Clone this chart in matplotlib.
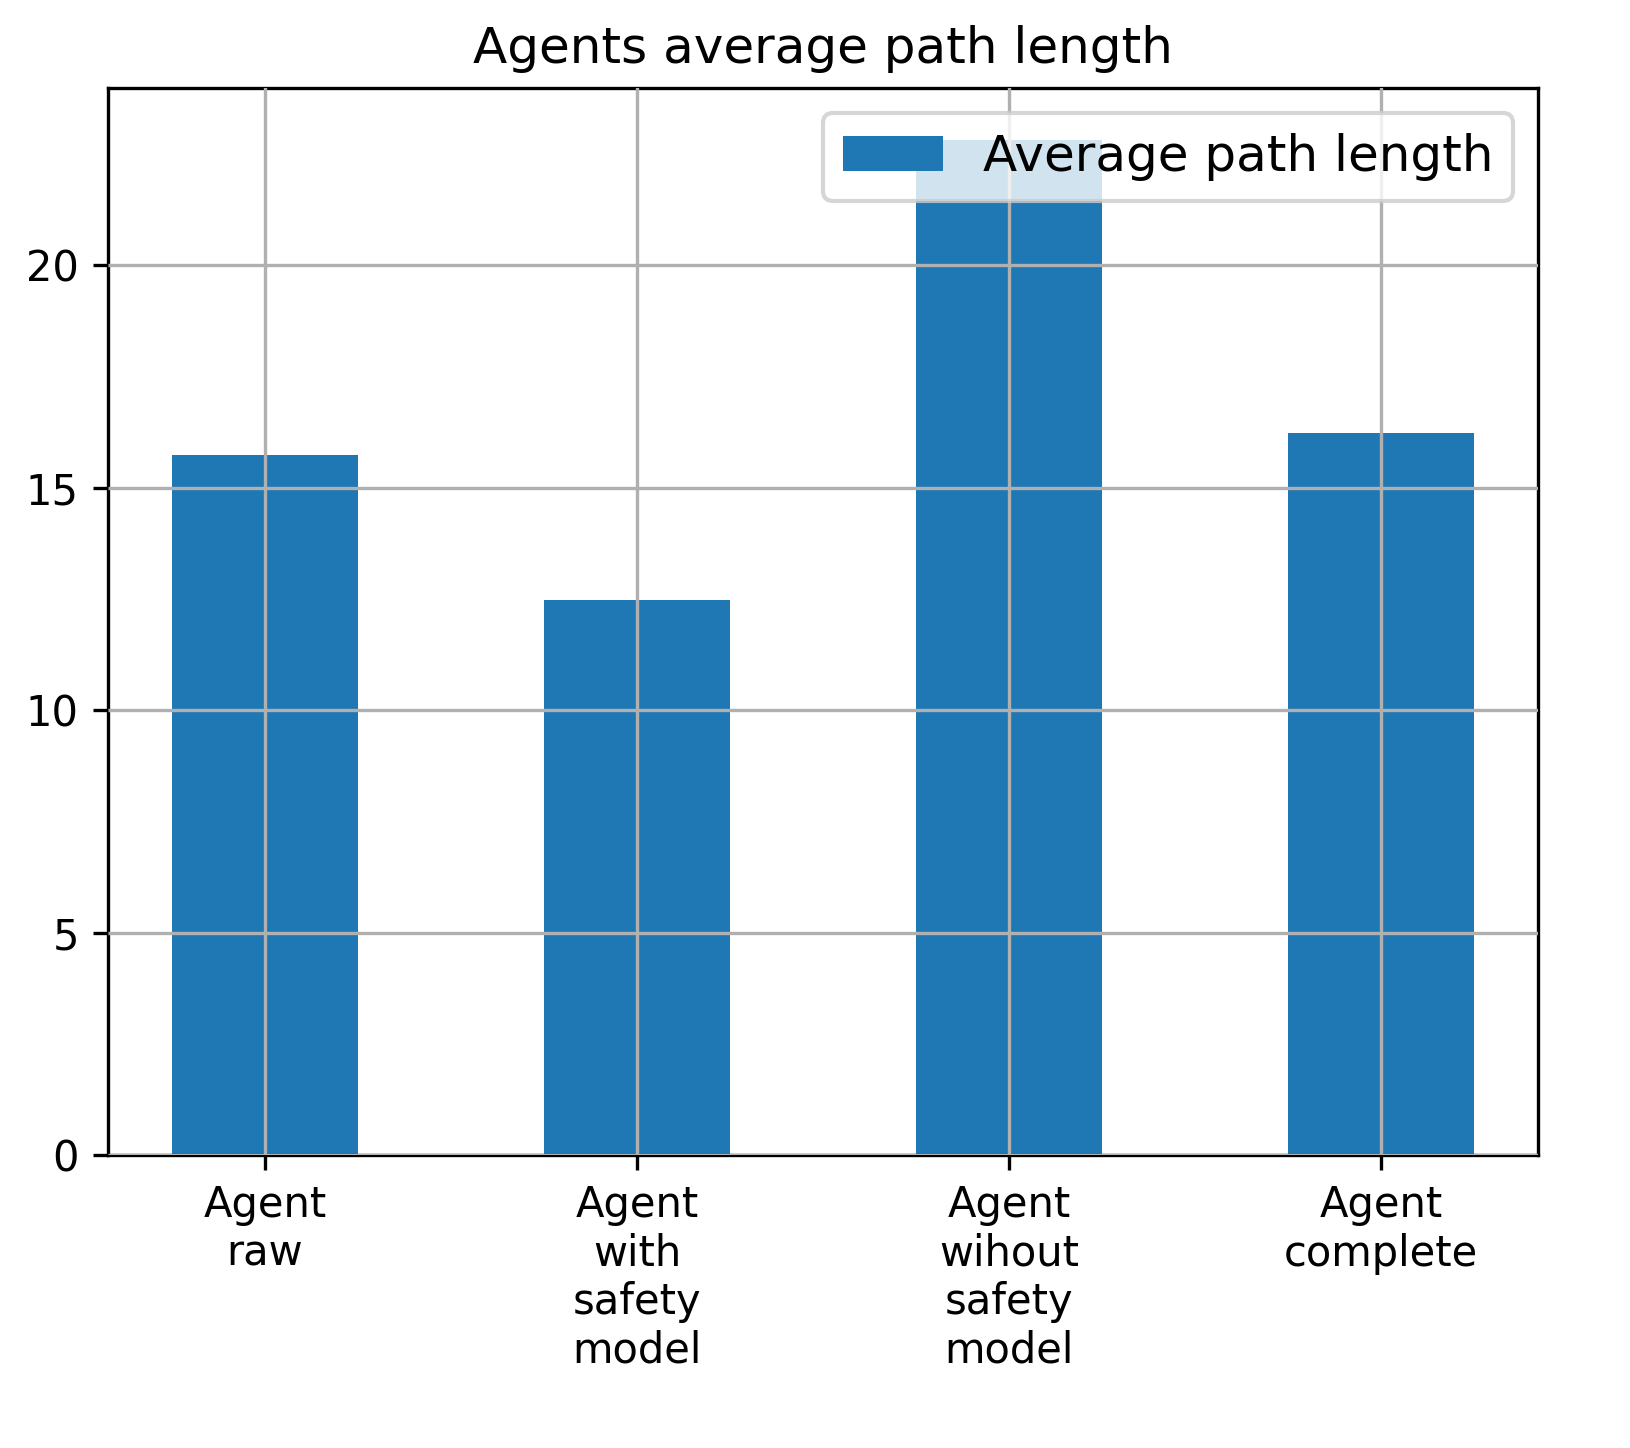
import matplotlib.pyplot as plt

labels = ['Agent\nraw', 'Agent\nwith\nsafety\nmodel', 'Agent\nwihout\nsafety\nmodel', 'Agent\ncomplete']
avg_path = [15.73, 12.47, 22.81, 16.22]

fig = plt.figure(figsize=(1630/300, 1448/300), dpi=300)
ax = fig.add_axes([108/1630, 1-1155/1448, 1430/1630, 1067/1448])
x = range(len(labels))
ax.bar(x, avg_path, width=0.5, color='#1f77b4', label='Average path length', zorder=2)
ax.set_xticks(list(x))
ax.set_xticklabels(labels, ha='center')
ax.set_xlim(-0.422, 3.422)
ax.set_ylim(0, 23.98)
ax.grid(True, color='#b0b0b0', zorder=3)
ax.set_axisbelow(False)
ax.set_title('Agents average path length')
ax.legend(loc='upper right', fontsize=12)
fig.savefig('out.png', dpi=300)
